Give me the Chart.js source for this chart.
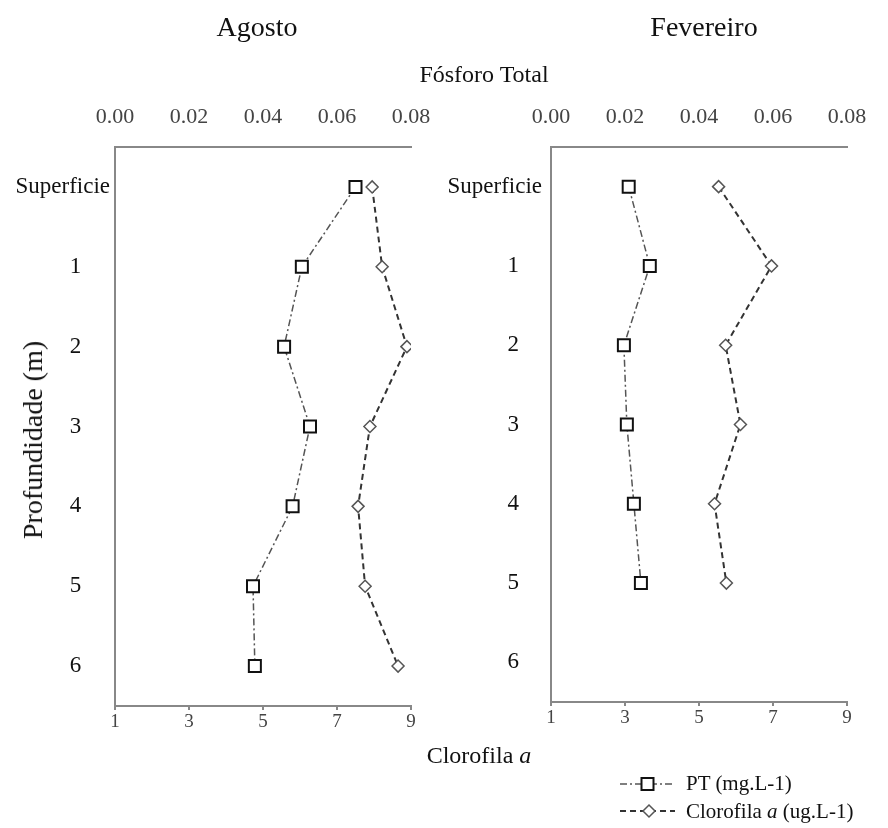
<!DOCTYPE html>
<html>
<head>
<meta charset="utf-8">
<script src="https://cdn.jsdelivr.net/npm/chart.js@4"></script>
<style>
  html, body { margin:0; padding:0; background:#fff; }
  #wrap { position:relative; width:888px; height:828px; overflow:hidden; font-family:"Liberation Serif", "Times New Roman", serif; color:#111; }
  canvas { position:absolute; top:0; }
  .t { position:absolute; white-space:nowrap; line-height:1; }
</style>
</head>
<body>
<div id="wrap">
  <canvas id="cA" width="480" height="828" style="left:0px;width:480px;height:828px"></canvas>
  <canvas id="cF" width="448" height="828" style="left:440px;width:448px;height:828px"></canvas>
  <div class="t" id="tA" style="font-size:28px;top:13px;left:257px;transform:translateX(-50%)">Agosto</div>
  <div class="t" id="tF" style="font-size:28px;top:13px;left:704px;transform:translateX(-50%)">Fevereiro</div>
  <div class="t" style="font-size:24px;top:62px;left:484px;transform:translateX(-50%)">Fósforo Total</div>
  <div class="t" style="font-size:24px;top:743px;left:479px;transform:translateX(-50%)">Clorofila <i>a</i></div>
  <div class="t" style="font-size:28px;top:440px;left:33px;transform:translate(-50%,-50%) rotate(-90deg)">Profundidade (m)</div>
  <svg style="position:absolute;left:615px;top:772px" width="66" height="50">
    <line x1="5" y1="12" x2="60" y2="12" stroke="#555" stroke-width="1.5" stroke-dasharray="7,3,2,3"/>
    <rect x="26.5" y="6" width="12" height="12" fill="#fff" stroke="#111" stroke-width="2"/>
    <line x1="5" y1="39" x2="60" y2="39" stroke="#333" stroke-width="2" stroke-dasharray="6,4"/>
    <path d="M34 33 L40 39 L34 45 L28 39 Z" fill="#fff" stroke="#555" stroke-width="1.5"/>
  </svg>
  <div class="t" style="font-size:21px;top:773px;left:686px">PT (mg.L-1)</div>
  <div class="t" style="font-size:21px;top:801px;left:686px">Clorofila <i>a</i> (ug.L-1)</div>
</div>
<script>
// Depth categories
const depths = ['Superficie', '1', '2', '3', '4', '5', '6'];
// Top axis: Fósforo Total ticks; bottom axis: Clorofila a ticks
const ptTicks = [0.00, 0.02, 0.04, 0.06, 0.08];
const chlTicks = [1, 3, 5, 7, 9];
// Agosto
const agostoPT  = [0.065, 0.0505, 0.0457, 0.0527, 0.048, 0.0373, 0.0378];
const agostoChl = [7.95, 8.22, 8.89, 7.89, 7.57, 7.76, 8.65];
// Fevereiro
const fevPT  = [0.021, 0.0267, 0.0197, 0.0205, 0.0224, 0.0243, null];
const fevChl = [5.53, 6.96, 5.72, 6.12, 5.42, 5.74, null];

function pts(vals) {
  const out = [];
  vals.forEach((v, i) => { if (v !== null) out.push({ x: v, y: depths[i] }); });
  return out;
}

function makeChart(id, ptVals, chlVals, cfg) {
  const serif = '"Liberation Serif", "Times New Roman", serif';
  return new Chart(document.getElementById(id), {
    type: 'line',
    data: {
      datasets: [
        {
          label: 'PT (mg.L-1)', data: pts(ptVals), xAxisID: 'xTop', yAxisID: 'y',
          borderColor: '#555', borderWidth: 1.5, borderDash: [7, 3, 2, 3], tension: 0, fill: false,
          pointStyle: 'rect', pointRadius: 8.5, pointBorderWidth: 2,
          pointBorderColor: '#111', pointBackgroundColor: '#fff'
        },
        {
          label: 'Clorofila a (ug.L-1)', data: pts(chlVals), xAxisID: 'xBottom', yAxisID: 'y',
          borderColor: '#333', borderWidth: 2, borderDash: [6, 4], tension: 0, fill: false,
          pointStyle: 'rectRot', pointRadius: 6, pointBorderWidth: 1.5,
          pointBorderColor: '#555', pointBackgroundColor: '#fff'
        }
      ]
    },
    options: {
      responsive: false, animation: false, indexAxis: 'y',
      layout: { padding: { left: 0, right: cfg.padRight, top: 90, bottom: cfg.padBottom } },
      plugins: { legend: { display: false }, tooltip: { enabled: false }, title: { display: false } },
      scales: {
        y: {
          type: 'category', labels: depths, offset: true, position: 'left',
          grid: { display: false, drawTicks: false },
          border: { display: true, color: '#888', width: 2 },
          ticks: {
            padding: cfg.yPad, color: '#111', font: { family: serif, size: 23 },
            callback: function (v, i) {
              const l = this.getLabelForValue(v);
              return i === 0 ? l : l + cfg.spaces;
            }
          },
          afterFit: s => { s.width = cfg.yWidth; }
        },
        xTop: {
          type: 'linear', position: 'top', min: 0, max: 0.08,
          afterBuildTicks: s => { s.ticks = ptTicks.map(v => ({ value: v })); },
          grid: { display: false, drawTicks: false, tickLength: 0 },
          border: { display: true, color: '#888', width: 2 },
          ticks: { padding: 17, color: '#444', font: { family: serif, size: 22 }, maxRotation: 0,
                   callback: v => Number(v).toFixed(2) },
          afterFit: s => { s.height = 57; }
        },
        xBottom: {
          type: 'linear', position: 'bottom', min: 1, max: 9,
          afterBuildTicks: s => { s.ticks = chlTicks.map(v => ({ value: v })); },
          grid: { display: true, drawOnChartArea: false, drawTicks: true, tickLength: 4, color: '#888', lineWidth: 2 },
          border: { display: true, color: '#888', width: 2 },
          ticks: { padding: 1, color: '#444', font: { family: serif, size: 19 }, maxRotation: 0 },
          afterFit: s => { s.height = 30; }
        }
      }
    }
  });
}

makeChart('cA', agostoPT, agostoChl, { padRight: 69, padBottom: 92, yWidth: 115, yPad: 5, spaces: '     ' });
makeChart('cF', fevPT, fevChl, { padRight: 41, padBottom: 96, yWidth: 111, yPad: 9, spaces: '    ' });
</script>
</body>
</html>
